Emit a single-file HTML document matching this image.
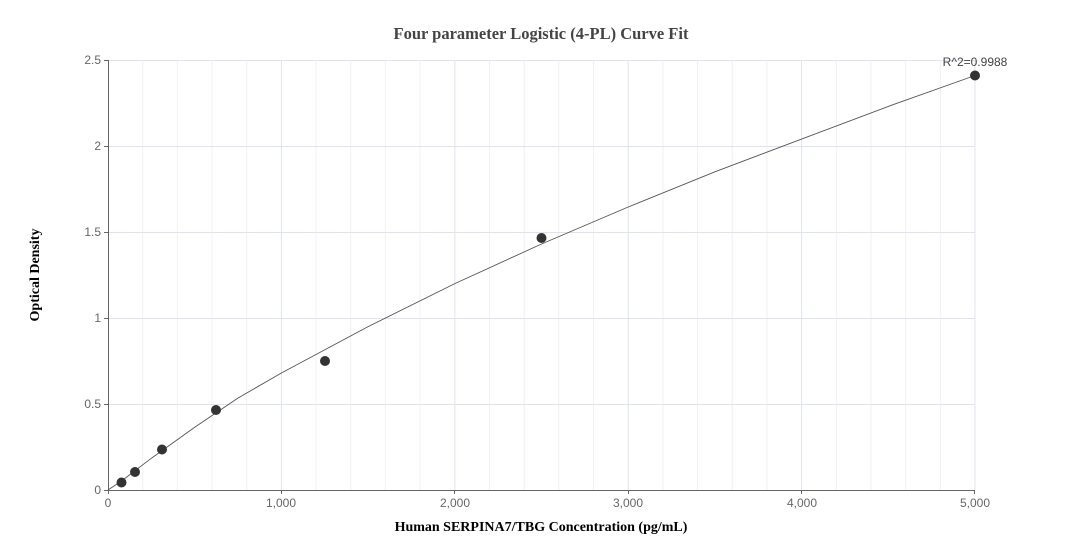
<!DOCTYPE html>
<html><head><meta charset="utf-8"><style>
html,body{margin:0;padding:0;background:#fff;}
svg{display:block;font-family:"Liberation Sans",sans-serif;}
</style></head><body>
<svg width="1083" height="560" viewBox="0 0 1083 560">
<rect width="1083" height="560" fill="#fff"/>
<g stroke="#eef0f7" stroke-width="1">
<line x1="142.7" y1="60" x2="142.7" y2="490"/><line x1="177.4" y1="60" x2="177.4" y2="490"/><line x1="212" y1="60" x2="212" y2="490"/><line x1="246.7" y1="60" x2="246.7" y2="490"/>
<line x1="316" y1="60" x2="316" y2="490"/><line x1="350.7" y1="60" x2="350.7" y2="490"/><line x1="385.4" y1="60" x2="385.4" y2="490"/><line x1="420" y1="60" x2="420" y2="490"/>
<line x1="489.5" y1="60" x2="489.5" y2="490"/><line x1="524.2" y1="60" x2="524.2" y2="490"/><line x1="558.8" y1="60" x2="558.8" y2="490"/><line x1="593.5" y1="60" x2="593.5" y2="490"/>
<line x1="662.9" y1="60" x2="662.9" y2="490"/><line x1="697.5" y1="60" x2="697.5" y2="490"/><line x1="732.2" y1="60" x2="732.2" y2="490"/><line x1="766.9" y1="60" x2="766.9" y2="490"/>
<line x1="836.3" y1="60" x2="836.3" y2="490"/><line x1="870.9" y1="60" x2="870.9" y2="490"/><line x1="905.6" y1="60" x2="905.6" y2="490"/><line x1="940.3" y1="60" x2="940.3" y2="490"/>
</g>
<g stroke="#dfe3ef" stroke-width="1">
<line x1="281.4" y1="60" x2="281.4" y2="490"/><line x1="454.8" y1="60" x2="454.8" y2="490"/><line x1="628.2" y1="60" x2="628.2" y2="490"/><line x1="801.6" y1="60" x2="801.6" y2="490"/><line x1="975" y1="60" x2="975" y2="490"/>
<line x1="108" y1="60.5" x2="975" y2="60.5"/><line x1="108" y1="146.5" x2="975" y2="146.5"/><line x1="108" y1="232.5" x2="975" y2="232.5"/><line x1="108" y1="318.5" x2="975" y2="318.5"/><line x1="108" y1="404.5" x2="975" y2="404.5"/>
</g>
<g stroke="#666" stroke-width="1">
<line x1="108.5" y1="60" x2="108.5" y2="490"/><line x1="108" y1="490.5" x2="975" y2="490.5"/>
<line x1="104" y1="60.5" x2="108" y2="60.5"/><line x1="104" y1="146.5" x2="108" y2="146.5"/><line x1="104" y1="232.5" x2="108" y2="232.5"/><line x1="104" y1="318.5" x2="108" y2="318.5"/><line x1="104" y1="404.5" x2="108" y2="404.5"/><line x1="104" y1="490.5" x2="108" y2="490.5"/>
<line x1="108.5" y1="490" x2="108.5" y2="494"/><line x1="281.5" y1="490" x2="281.5" y2="494"/><line x1="454.5" y1="490" x2="454.5" y2="494"/><line x1="628.5" y1="490" x2="628.5" y2="494"/><line x1="801.5" y1="490" x2="801.5" y2="494"/><line x1="974.5" y1="490" x2="974.5" y2="494"/>
</g>
<g fill="#666" font-size="12" text-anchor="end">
<text x="101" y="64">2.5</text><text x="101" y="150">2</text><text x="101" y="236">1.5</text><text x="101" y="322">1</text><text x="101" y="408">0.5</text><text x="101" y="494">0</text>
</g>
<g fill="#666" font-size="12" text-anchor="middle">
<text x="108" y="507">0</text><text x="281" y="507">1,000</text><text x="455" y="507">2,000</text><text x="628" y="507">3,000</text><text x="802" y="507">4,000</text><text x="975" y="507">5,000</text>
</g>
<polyline points="108,490 121.5,481 151.4,458.2 194.7,427.2 238.1,398 281.4,373 368.1,326.6 454.8,283.6 541.5,244 628.2,207 714.9,171.8 801.6,139.1 888.3,106.4 975,75.5" fill="none" stroke="#555" stroke-width="0.9" stroke-linejoin="round"/>
<g fill="#333">
<circle cx="121.5" cy="482.5" r="5"/><circle cx="135" cy="472" r="5"/><circle cx="162" cy="449.5" r="5"/><circle cx="216" cy="410" r="5"/><circle cx="325" cy="361" r="5"/><circle cx="541.5" cy="238" r="5"/><circle cx="975" cy="75.5" r="5"/>
</g>
<text x="975" y="66" font-size="12" fill="#444" text-anchor="middle">R^2=0.9988</text>
<text x="541" y="39" font-family="Liberation Serif,serif" font-weight="bold" font-size="16.5" fill="#444" text-anchor="middle">Four parameter Logistic (4-PL) Curve Fit</text>
<text x="541" y="531" font-family="Liberation Serif,serif" font-weight="bold" font-size="14" fill="#000" text-anchor="middle">Human SERPINA7/TBG Concentration (pg/mL)</text>
<text transform="translate(39,275) rotate(-90)" font-family="Liberation Serif,serif" font-weight="bold" font-size="14" fill="#000" text-anchor="middle">Optical Density</text>
</svg>
</body></html>
